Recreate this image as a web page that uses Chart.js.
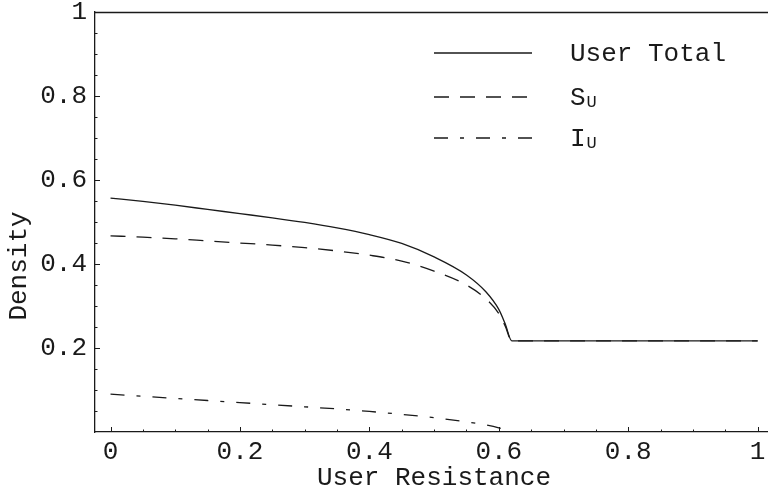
<!DOCTYPE html>
<html>
<head>
<meta charset="utf-8">
<script src="https://cdn.jsdelivr.net/npm/chart.js@4.4.1/dist/chart.umd.min.js"></script>
<style>
  html, body { margin: 0; padding: 0; background: #fff; }
</style>
</head>
<body>
<canvas id="chart" width="768" height="494"></canvas>
<script>
// values
const resistance = [0, 0.05, 0.1, 0.15, 0.2, 0.25, 0.3, 0.35, 0.4, 0.45, 0.5, 0.55, 0.58, 0.6, 0.61, 0.62, 0.7, 0.8, 0.9, 1]
const userTotal   = [0.557, 0.549, 0.540, 0.530, 0.520, 0.510, 0.499, 0.486, 0.470, 0.449, 0.417, 0.374, 0.334, 0.292, 0.257, 0.217, 0.217, 0.217, 0.217, 0.217]
const susceptible = [0.467, 0.464, 0.460, 0.455, 0.450, 0.445, 0.439, 0.431, 0.421, 0.407, 0.383, 0.350, 0.317, 0.282, 0.252, 0.217, 0.217, 0.217, 0.217, 0.217]
const infected    = [0.090, 0.085, 0.080, 0.075, 0.070, 0.065, 0.060, 0.055, 0.049, 0.042, 0.034, 0.024, 0.017, 0.010, 0.005, 0, 0, 0, 0, 0]

const xTickValues = [0, 0.2, 0.4, 0.6, 0.8, 1]
const yTickValues = [0, 0.2, 0.4, 0.6, 0.8, 1]

const legendItems = [
    {text: 'User Total', sub: '', dash: []},
    {text: 'S', sub: 'U', dash: [15, 11]},
    {text: 'I', sub: 'U', dash: [14, 12, 4, 12]}
]

const FONT = '"Liberation Mono", "Courier New", monospace'
const INK = '#1a1a1a'

function toPoints(values) {
    return resistance.map((x, i) => ({x: x, y: values[i]}))
}

const decorations = {
    id: 'decorations',
    afterDraw(chart) {
        const ctx = chart.ctx
        const area = chart.chartArea
        const xs = chart.scales.x
        const ys = chart.scales.y
        ctx.save()
        ctx.strokeStyle = INK
        ctx.lineWidth = 1.3
        ctx.setLineDash([])

        // top frame line
        ctx.beginPath()
        ctx.moveTo(area.left, area.top + 0.5)
        ctx.lineTo(768, area.top + 0.5)
        ctx.stroke()

        // inward ticks, minor every 0.05
        ctx.lineWidth = 1
        for (let k = 0; k <= 20; k++) {
            const v = k * 0.05
            const major = k % 4 == 0
            const len = major ? 5 : 2.5
            const px = Math.round(xs.getPixelForValue(v)) + 0.5
            if (px <= area.right) {
                ctx.beginPath()
                ctx.moveTo(px, area.bottom)
                ctx.lineTo(px, area.bottom - len)
                ctx.stroke()
            }
            if (k > 0 && k < 20) {
                const py = Math.round(ys.getPixelForValue(v)) + 0.5
                ctx.beginPath()
                ctx.moveTo(area.left, py)
                ctx.lineTo(area.left + len, py)
                ctx.stroke()
            }
        }

        // axis titles
        ctx.fillStyle = INK
        ctx.font = '26px ' + FONT
        ctx.textAlign = 'center'
        ctx.textBaseline = 'alphabetic'
        ctx.fillText('User Resistance', 434, 485)
        ctx.save()
        ctx.translate(26, 266)
        ctx.rotate(-Math.PI / 2)
        ctx.fillText('Density', 0, 0)
        ctx.restore()

        // legend
        const lineY = [53, 97, 138]
        const baseY = [61, 105, 146]
        ctx.textAlign = 'left'
        legendItems.forEach((item, i) => {
            ctx.lineWidth = 1.3
            ctx.setLineDash(item.dash)
            ctx.beginPath()
            ctx.moveTo(434, lineY[i])
            ctx.lineTo(532, lineY[i])
            ctx.stroke()
            ctx.setLineDash([])
            ctx.font = '26px ' + FONT
            ctx.fillText(item.text, 570, baseY[i])
            if (item.sub) {
                const w = ctx.measureText(item.text).width
                ctx.font = '17px ' + FONT
                ctx.fillText(item.sub, 570 + w + 1, baseY[i] + 2)
            }
        })
        ctx.restore()
    }
}

function createChart() {
    const common = {
        pointRadius: 0,
        borderColor: INK,
        backgroundColor: INK,
        borderWidth: 1.3,
        cubicInterpolationMode: 'monotone',
        fill: false
    }
    const data = {
        datasets: [
            Object.assign({label: 'User Total', data: toPoints(userTotal)}, common),
            Object.assign({label: 'S_U', data: toPoints(susceptible), borderDash: [15, 11]}, common),
            Object.assign({label: 'I_U', data: toPoints(infected), borderDash: [14, 12, 4, 12]}, common)
        ]
    }
    const config = {
        type: 'line',
        data: data,
        options: {
            responsive: false,
            animation: false,
            layout: {padding: {top: 12, right: 0, left: 0, bottom: 0}},
            scales: {
                x: {
                    type: 'linear',
                    min: -0.024,
                    max: 1.016,
                    grid: {display: false, drawTicks: false},
                    border: {display: true, color: INK, width: 1.3},
                    afterBuildTicks: scale => { scale.ticks = xTickValues.map(v => ({value: v})) },
                    afterFit: scale => {
                        scale.height = 62
                        scale.paddingLeft = 0
                        scale.paddingRight = 0
                    },
                    ticks: {
                        color: INK,
                        padding: 5,
                        maxRotation: 0,
                        font: {family: FONT, size: 26},
                        callback: v => String(+v.toFixed(1))
                    }
                },
                y: {
                    type: 'linear',
                    min: 0,
                    max: 1,
                    grid: {display: false, drawTicks: false},
                    border: {display: true, color: INK, width: 1.3},
                    afterBuildTicks: scale => { scale.ticks = yTickValues.map(v => ({value: v})) },
                    afterFit: scale => {
                        scale.width = 95
                        scale.paddingTop = 0
                        scale.paddingBottom = 0
                    },
                    ticks: {
                        color: INK,
                        padding: 8,
                        font: {family: FONT, size: 26},
                        callback: v => v == 0 ? '' : String(+v.toFixed(1))
                    }
                }
            },
            plugins: {
                legend: {display: false},
                tooltip: {enabled: false}
            }
        },
        plugins: [decorations]
    }
    chart = new Chart(document.getElementById('chart'), config)
}

createChart()
</script>
</body>
</html>
